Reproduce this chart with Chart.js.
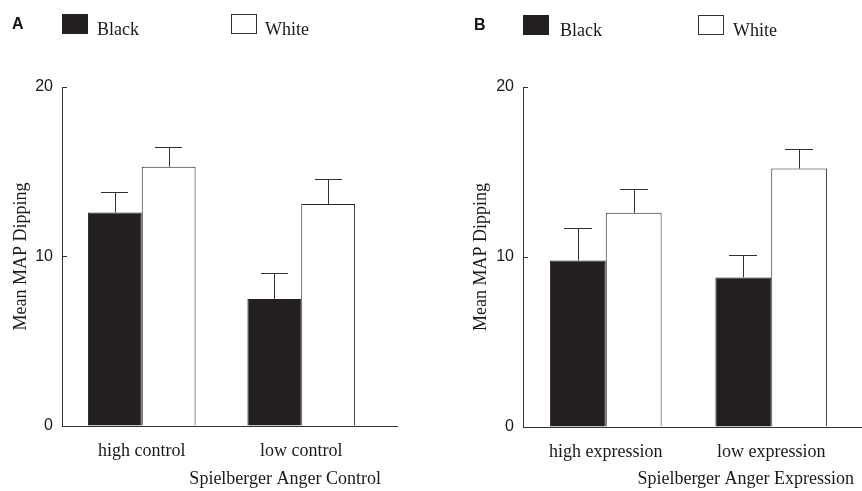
<!DOCTYPE html>
<html><head><meta charset="utf-8">
<script src="https://cdn.jsdelivr.net/npm/chart.js@4/dist/chart.umd.min.js"></script>
<style>
html,body{margin:0;padding:0;background:#fff;}
#wrap{position:relative;width:862px;height:491px;overflow:hidden;background:#fff;}
canvas{position:absolute;top:0;}
.lbl{position:absolute;font-family:'Liberation Serif','Times New Roman',serif;font-size:18px;line-height:20px;color:#1a1a1a;white-space:nowrap;}
.pl{position:absolute;font-family:'Liberation Sans',Arial,sans-serif;font-weight:bold;font-size:16px;line-height:16px;color:#111;}
.box{position:absolute;width:26px;height:20px;box-sizing:border-box;}
</style></head>
<body><div id="wrap">
<canvas id="chartA" width="431" height="491" style="left:0"></canvas>
<canvas id="chartB" width="431" height="491" style="left:431px"></canvas>
</div>
<script>
// ---- data ----
const seriesNames = ['Black', 'White'];
const panelLetters = ['A', 'B'];
const categoriesA = ['high control', 'low control'];
const blackA = [12.6, 7.5];
const whiteA = [15.3, 13.1];
const blackErrA = [1.2, 1.5];
const whiteErrA = [1.15, 1.5];
const categoriesB = ['high expression', 'low expression'];
const blackB = [9.8, 8.8];
const whiteB = [12.6, 15.2];
const blackErrB = [1.9, 1.3];
const whiteErrB = [1.4, 1.15];
const yTicks = [0, 10, 20];
const yTitle = 'Mean MAP Dipping';
const xTitleA = 'Spielberger Anger Control';
const xTitleB = 'Spielberger Anger Expression';

// ---- HTML legend / panel letters ----
const wrap = document.getElementById('wrap');
function addEl(cls, style, text) {
  const d = document.createElement('div');
  d.className = cls;
  Object.assign(d.style, style);
  if (text) d.textContent = text;
  wrap.appendChild(d);
}
const legendLayout = [
  {letter: 12, box1: 62, txt1: 97, box2: 231, txt2: 265, y: 14},
  {letter: 474, box1: 523, txt1: 560, box2: 698, txt2: 733, y: 15}
];
legendLayout.forEach((L, i) => {
  addEl('pl', {left: L.letter + 'px', top: (L.y + 2) + 'px'}, panelLetters[i]);
  addEl('box', {left: L.box1 + 'px', top: L.y + 'px', background: '#231f20'});
  addEl('lbl', {left: L.txt1 + 'px', top: (L.y + 5) + 'px'}, seriesNames[0]);
  addEl('box', {left: L.box2 + 'px', top: L.y + 'px', background: '#fff', border: '1px solid #333'});
  addEl('lbl', {left: L.txt2 + 'px', top: (L.y + 5) + 'px'}, seriesNames[1]);
});

// ---- plugins ----
const errorBars = {
  id: 'errorBars',
  afterDatasetsDraw(chart) {
    const ctx = chart.ctx, y = chart.scales.y;
    chart.data.datasets.forEach((ds, i) => {
      const meta = chart.getDatasetMeta(i);
      meta.data.forEach((bar, j) => {
        const top = Math.round(y.getPixelForValue(ds.data[j] + ds.errors[j])) + 0.5;
        const x = Math.round(bar.x) + 0.5;
        const half = bar.width / 4;
        ctx.save();
        ctx.strokeStyle = '#333';
        ctx.lineWidth = 1;
        ctx.beginPath();
        ctx.moveTo(x, bar.y);
        ctx.lineTo(x, top);
        ctx.moveTo(Math.round(bar.x - half), top);
        ctx.lineTo(Math.round(bar.x + half), top);
        ctx.stroke();
        ctx.restore();
      });
    });
  }
};
const axisExtend = {
  id: 'axisExtend',
  afterDraw(chart, args, opts) {
    const a = chart.chartArea, ctx = chart.ctx;
    const yy = Math.round(a.bottom) + 0.5;
    ctx.save();
    ctx.strokeStyle = '#333';
    ctx.lineWidth = 1;
    ctx.beginPath();
    ctx.moveTo(a.right, yy);
    ctx.lineTo(a.right + opts.extend, yy);
    ctx.stroke();
    ctx.restore();
  }
};

function makeChart(id, cats, black, white, blackErr, whiteErr, xTitle, lay) {
  return new Chart(document.getElementById(id), {
    type: 'bar',
    data: {
      labels: cats,
      datasets: [
        {label: seriesNames[0], data: black, errors: blackErr,
         backgroundColor: '#231f20', borderColor: '#231f20', borderWidth: 1, borderSkipped: 'bottom',
         barPercentage: 1, categoryPercentage: 0.675},
        {label: seriesNames[1], data: white, errors: whiteErr,
         backgroundColor: '#ffffff', borderColor: '#222', borderWidth: 1, borderSkipped: 'bottom',
         barPercentage: 1, categoryPercentage: 0.675}
      ]
    },
    options: {
      responsive: false,
      animation: false,
      devicePixelRatio: 1,
      layout: {padding: {top: 87, right: lay.right, bottom: 0, left: 0}},
      plugins: {legend: {display: false}, tooltip: {enabled: false}, axisExtend: {extend: lay.extend}},
      scales: {
        x: {
          offset: true,
          grid: {display: false, drawTicks: false},
          border: {display: true, color: '#333', width: 1},
          ticks: {padding: 14, color: '#1a1a1a', maxRotation: 0, autoSkip: false,
                  font: {family: 'Liberation Serif', size: 18}},
          title: {display: true, text: xTitle, align: 'end', color: '#1a1a1a',
                  font: {family: 'Liberation Serif', size: 18}, padding: {top: 0, bottom: 1}},
          afterFit(s) { s.height = lay.xh; }
        },
        y: {
          min: 0, max: 20,
          afterBuildTicks(s) { s.ticks = yTicks.map(v => ({value: v})); },
          grid: {drawOnChartArea: false, tickLength: -5, color: '#333'},
          border: {display: true, color: '#333', width: 1},
          ticks: {padding: 14, color: '#1a1a1a', font: {family: 'Liberation Sans', size: 16}},
          title: {display: true, text: yTitle, color: '#1a1a1a',
                  font: {family: 'Liberation Serif', size: 18}, padding: {top: lay.tp, bottom: 0}},
          afterFit(s) { s.width = lay.yw; }
        }
      }
    },
    plugins: [errorBars, axisExtend]
  });
}

makeChart('chartA', categoriesA, blackA, whiteA, blackErrA, whiteErrA, xTitleA,
  {right: 50, extend: 17, xh: 65, yw: 62, tp: 10});
makeChart('chartB', categoriesB, blackB, whiteB, blackErrB, whiteErrB, xTitleB,
  {right: 8, extend: 10, xh: 64, yw: 92, tp: 39});
</script>
</body></html>
